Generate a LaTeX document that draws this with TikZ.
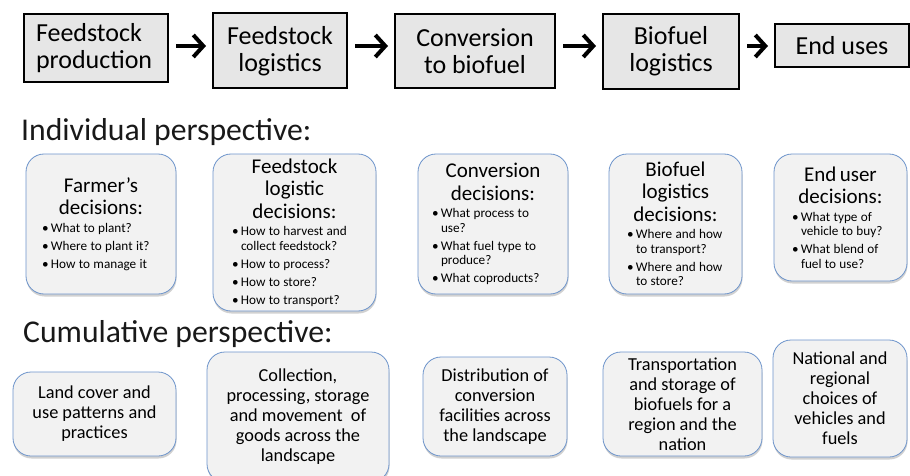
\documentclass[tikz,border=0pt]{standalone}
\usepackage{fontspec}
\setmainfont{Carlito}
\usetikzlibrary{arrows.meta,shadows}
\definecolor{stagegray}{HTML}{E6E6E6}
\definecolor{decfill}{HTML}{F2F2F2}
\definecolor{decline}{HTML}{6D94CB}
\setlength{\parindent}{0pt}
\newcommand\brk{\hfil\break}
\newcommand\dechead[1]{{\centering\fontsize{21}{22.5}\selectfont #1\par}\vspace{3pt}}
\newcommand\decitem[1]{{\fontsize{13.2}{14.5}\selectfont\rightskip=0pt plus 1fil
  \hangindent=9pt\hangafter=1\noindent\makebox[9pt][l]{\textbullet}#1\par}\vspace{3.5pt}}
\tikzset{
  stage/.style={draw=black, line width=2pt, fill=stagegray, inner sep=0pt, align=center,
    font=\fontsize{26}{27}\selectfont},
  decbox/.style={draw=decline, line width=0.8pt, fill=decfill, rounded corners=18pt,
    drop shadow={shadow xshift=0.5pt, shadow yshift=-2.5pt, opacity=.3, fill=black!60},
    inner ysep=0pt},
  cumbox/.style={decbox, align=center, inner sep=0pt, font=\fontsize{18.3}{20}\selectfont},
  flow/.style={line width=4pt, -{Straight Barb[length=10pt,width=22pt]},
    shorten <=7pt, shorten >=6pt},
  persp/.style={anchor=base west, inner sep=0pt, text=black!90,
    font=\fontsize{31.7}{34}\selectfont}
}

\begin{document}
\begin{tikzpicture}[x=1pt,y=-1pt]
\useasboundingbox (0,0) rectangle (910,476);
\coordinate (axis) at (0,46);

\node[stage, text width=120pt, inner xsep=12pt, minimum height=68pt, align=left] (prod) at (96,48) {Feedstock\\production};
\node[stage, minimum width=134pt, minimum height=75pt] (flog) at (280,51) {Feedstock\\logistics};
\node[stage, minimum width=160pt, minimum height=74pt] (conv) at (475,51) {Conversion\\to biofuel};
\node[stage, minimum width=136pt, minimum height=75pt] (blog) at (671,51.5) {Biofuel\\logistics};
\node[stage, minimum width=134pt, minimum height=43pt] (enduse) at (842,45.5) {End uses};

\draw[flow] (prod.east |- axis) -- (flog.west |- axis);
\draw[flow] (flog.east |- axis) -- (conv.west |- axis);
\draw[flow] (conv.east |- axis) -- (blog.west |- axis);
\draw[flow] (blog.east |- axis) -- (enduse.west |- axis);

\node[persp] (indiv) at (21,140) {Individual perspective:};

\node[decbox, inner xsep=16pt, text width=118pt, minimum height=140pt] (farmer) at (101,224) {%
  \dechead{Farmer’s\\decisions:}
  \decitem{What to plant?}
  \decitem{Where to plant it?}
  \decitem{How to manage it}};
\node[decbox, inner xsep=19pt, text width=125pt, minimum height=157pt] (flogdec) at (294.5,232.5) {%
  \dechead{Feedstock\\logistic\\decisions:}
  \decitem{How to harvest and\brk collect feedstock?}
  \decitem{How to process?}
  \decitem{How to store?}
  \decitem{How to transport?}};
\node[decbox, inner xsep=14pt, text width=122pt, minimum height=140pt] (convdec) at (493,224) {%
  \dechead{Conversion\\decisions:}
  \decitem{What process to\brk use?}
  \decitem{What fuel type to\brk produce?}
  \decitem{What coproducts?}};
\node[decbox, inner xsep=18pt, text width=97pt, minimum height=140pt] (blogdec) at (675.5,224) {%
  \dechead{Biofuel\\logistics\\decisions:}
  \decitem{Where and how\brk to transport?}
  \decitem{Where and how\brk to store?}};
\node[decbox, inner xsep=18pt, text width=97pt, minimum height=127pt] (userdec) at (840.5,217.5) {%
  \dechead{End user\\decisions:}
  \decitem{What type of\brk vehicle to buy?}
  \decitem{What blend of\brk fuel to use?}};

\node[persp] (cumul) at (23,342) {Cumulative perspective:};

\node[cumbox, minimum width=163pt, minimum height=84pt] (landcov) at (94.5,414) {Land cover and\\use patterns and\\practices};
\node[cumbox, minimum width=182pt, minimum height=130pt] (collect) at (298,417) {Collection,\\processing, storage\\and movement~ of\\goods across the\\landscape};
\node[cumbox, minimum width=144pt, minimum height=99pt] (distrib) at (495,406.5) {Distribution of\\conversion\\facilities across\\the landscape};
\node[cumbox, minimum width=159pt, minimum height=104pt] (transp) at (682.5,404) {Transportation\\and storage of\\biofuels for a\\region and the\\nation};
\node[cumbox, minimum width=134pt, minimum height=117pt] (national) at (840,398.5) {National and\\regional\\choices of\\vehicles and\\fuels};
\end{tikzpicture}
\end{document}
